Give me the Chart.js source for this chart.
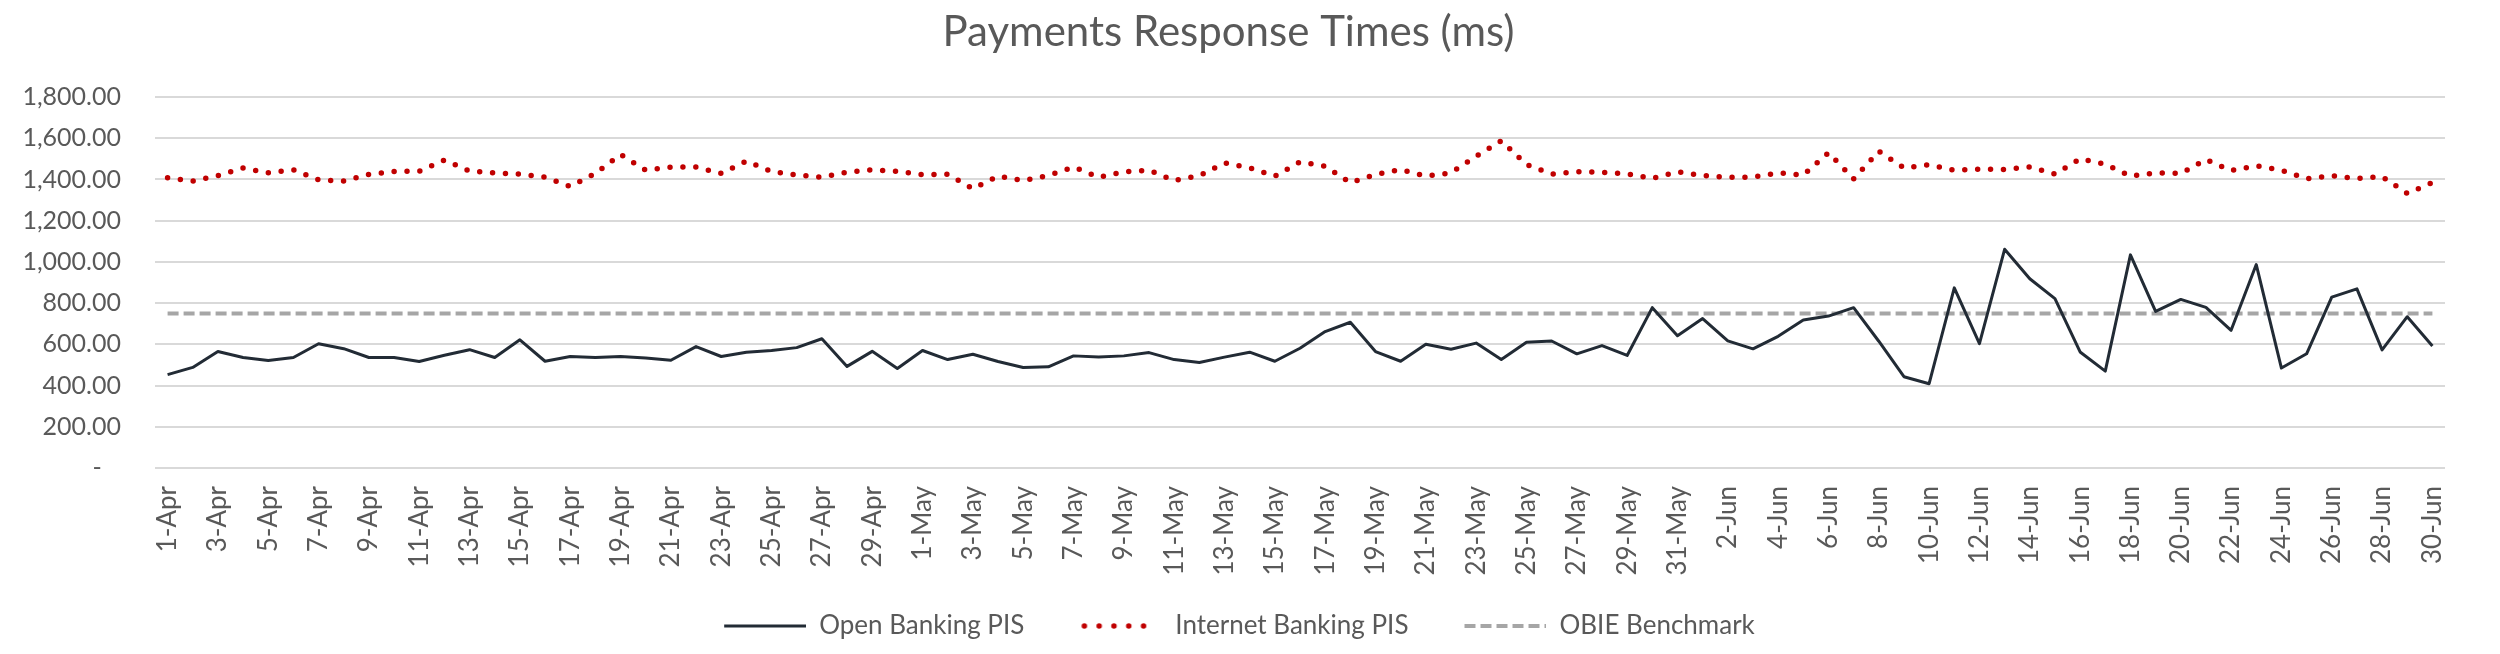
<!DOCTYPE html>
<html>
<head>
<meta charset="utf-8">
<title>Payments Response Times</title>
<script src="https://cdn.jsdelivr.net/npm/chart.js"></script>
<style>
  html, body { margin: 0; padding: 0; background: #ffffff; }
  #wrap { width: 2500px; height: 654px; }
</style>
</head>
<body>
<div id="wrap"><canvas id="rtChart" width="2500" height="654"></canvas></div>

<script>
// ---- data ----
const months = [["Apr", 30], ["May", 31], ["Jun", 30]];

const openBankingPIS = [
    453, 488, 565, 536, 522, 536, 603, 579, 536, 536,
    517, 547, 574, 536, 622, 518, 541, 536, 541, 534,
    523, 589, 541, 562, 570, 584, 627, 493, 566, 483,
    570, 526, 552, 517, 488, 491, 544, 539, 544, 560,
    526, 512, 538, 562, 518, 581, 662, 707, 565, 518,
    600, 576, 606, 526, 610, 616, 554, 594, 546, 778,
    642, 725, 617, 578, 639, 718, 737, 778, 615, 443,
    409, 874, 603, 1061, 918, 822, 563, 470, 1034, 760,
    818, 779, 668, 987, 485, 554, 829, 869, 573, 734,
    592
];

const internetBankingPIS = [
    1408, 1392, 1418, 1456, 1432, 1447, 1398, 1392, 1424, 1439,
    1440, 1494, 1440, 1432, 1426, 1411, 1366, 1429, 1521, 1445,
    1460, 1460, 1429, 1489, 1439, 1421, 1411, 1435, 1447, 1439,
    1423, 1425, 1355, 1416, 1394, 1419, 1460, 1411, 1437, 1445,
    1395, 1418, 1480, 1456, 1416, 1485, 1464, 1384, 1424, 1448,
    1416, 1432, 1513, 1588, 1472, 1426, 1437, 1435, 1427, 1405,
    1437, 1419, 1410, 1411, 1432, 1421, 1530, 1403, 1537, 1456,
    1471, 1445, 1450, 1448, 1461, 1426, 1500, 1474, 1416, 1432,
    1429, 1497, 1443, 1466, 1445, 1403, 1418, 1405, 1414, 1332,
    1385
];

const obieBenchmark = 750;

const yTicks = [0, 200, 400, 600, 800, 1000, 1200, 1400, 1600, 1800];

// category labels "1-Apr" ... "30-Jun"
const dayLabels = [];
months.forEach(function (m) {
    for (let d = 1; d <= m[1]; d++) dayLabels.push(d + "-" + m[0]);
});

document.addEventListener("DOMContentLoaded", function () {

    Chart.defaults.font.family = "Lato, 'Open Sans', sans-serif";
    Chart.defaults.font.size = 26;
    Chart.defaults.color = "#595959";

    const TEXT = "#595959";
    const GRID = "#d9d9d9";
    const DARK = "#222b35";
    const RED = "#c00000";
    const GREY = "#a6a6a6";

    // legend symbols: line samples like Excel, with a blank lead-in
    // so the gap between legend entries matches the original
    const LEAD = 22;
    function sample(kind) {
        const c = document.createElement("canvas");
        c.width = 82 + LEAD;
        c.height = 10;
        const g = c.getContext("2d");
        g.beginPath();
        g.moveTo(LEAD + (kind === "dot" ? 4 : 0), 5);
        g.lineTo(LEAD + (kind === "dot" ? 78 : 82), 5);
        if (kind === "line") {
            g.strokeStyle = DARK; g.lineWidth = 3;
        } else if (kind === "dot") {
            g.strokeStyle = RED; g.lineWidth = 5.5; g.lineCap = "round";
            g.setLineDash([0, 14.8]);
        } else {
            g.strokeStyle = GREY; g.lineWidth = 4;
            g.setLineDash([11, 5]);
        }
        g.stroke();
        return c;
    }
    const symbols = [sample("line"), sample("dot"), sample("dash")];

    const canvas = document.getElementById("rtChart");

    new Chart(canvas, {
        type: "line",
        data: {
            labels: dayLabels,
            datasets: [
                {
                    label: "Open Banking PIS",
                    data: openBankingPIS,
                    borderColor: DARK,
                    backgroundColor: DARK,
                    borderWidth: 3,
                    pointRadius: 0,
                    tension: 0,
                    borderJoinStyle: "round"
                },
                {
                    label: "Internet Banking PIS",
                    data: internetBankingPIS,
                    borderColor: RED,
                    backgroundColor: RED,
                    borderWidth: 5.5,
                    borderDash: [0, 12.9],
                    borderCapStyle: "round",
                    pointRadius: 0,
                    tension: 0
                },
                {
                    label: "OBIE Benchmark",
                    data: dayLabels.map(function () { return obieBenchmark; }),
                    borderColor: GREY,
                    backgroundColor: GREY,
                    borderWidth: 4,
                    borderDash: [11, 5],
                    pointRadius: 0,
                    tension: 0
                }
            ]
        },
        options: {
            responsive: false,
            animation: false,
            devicePixelRatio: 1,
            layout: {
                padding: { left: 12, right: 55, top: 0, bottom: 5 }
            },
            plugins: {
                tooltip: { enabled: false },
                title: {
                    display: true,
                    text: "Payments Response Times (ms)",
                    color: TEXT,
                    font: { size: 42, weight: "normal" },
                    padding: { top: 7, bottom: 39.6 }
                },
                legend: {
                    position: "bottom",
                    labels: {
                        color: TEXT,
                        font: { size: 26 },
                        usePointStyle: true,
                        pointStyleWidth: 82 + LEAD,
                        padding: 34,
                        generateLabels: function (chart) {
                            return chart.data.datasets.map(function (ds, i) {
                                return {
                                    text: ds.label,
                                    pointStyle: symbols[i],
                                    fillStyle: "transparent",
                                    strokeStyle: "transparent",
                                    lineWidth: 0,
                                    fontColor: TEXT,
                                    hidden: false,
                                    datasetIndex: i
                                };
                            });
                        }
                    }
                }
            },
            scales: {
                x: {
                    offset: true,
                    grid: { display: false, drawTicks: false },
                    border: { display: false },
                    ticks: {
                        autoSkip: false,
                        minRotation: 90,
                        maxRotation: 90,
                        padding: 18,
                        color: TEXT,
                        callback: function (value, index) {
                            return index % 2 === 0 ? this.getLabelForValue(value) : "";
                        }
                    },
                    afterFit: function (scale) { scale.height = 111; }
                },
                y: {
                    min: yTicks[0],
                    max: yTicks[yTicks.length - 1],
                    border: { display: false },
                    grid: { color: GRID, lineWidth: 2, drawTicks: false },
                    afterBuildTicks: function (scale) {
                        scale.ticks = yTicks.map(function (v) { return { value: v }; });
                    },
                    ticks: {
                        padding: 34,
                        color: TEXT,
                        font: { size: 25 },
                        callback: function (value) {
                            if (value === 0) return "-   ";
                            return value.toLocaleString("en-US", {
                                minimumFractionDigits: 2,
                                maximumFractionDigits: 2
                            });
                        }
                    },
                    afterFit: function (scale) { scale.width = 143; }
                }
            }
        }
    });

});
</script>
</body>
</html>
